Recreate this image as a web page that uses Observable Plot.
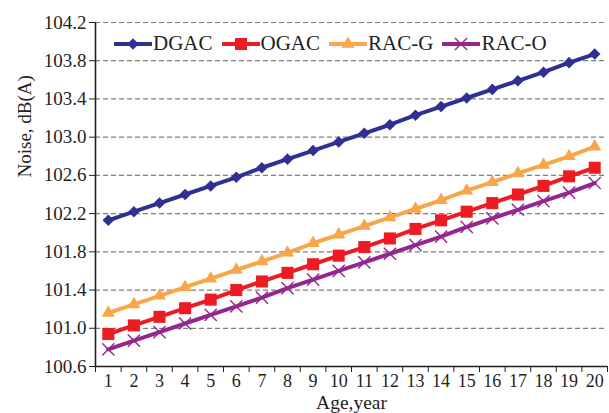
<!DOCTYPE html>
<html>
<head>
<meta charset="utf-8">
<script src="https://cdn.jsdelivr.net/npm/d3@7"></script>
<script src="https://cdn.jsdelivr.net/npm/@observablehq/plot@0.6"></script>
<style>
  html, body { margin: 0; padding: 0; background: #fff; }
  #wrap { position: relative; width: 609px; height: 413px; }
  #legend { position: absolute; left: 114px; top: 31px; display: flex; align-items: center;
            font-family: "Liberation Serif", serif; font-size: 21px; color: #231f20; }
  #legend .item { display: flex; align-items: center; margin-right: 9px; }
  #legend svg { display: block; margin-right: 1px; }
</style>
</head>
<body>
<div id="wrap"><div id="legend"></div></div>
<script>
const ages = [1,2,3,4,5,6,7,8,9,10,11,12,13,14,15,16,17,18,19,20];
const seriesNames = ["DGAC", "OGAC", "RAC-G", "RAC-O"];
const dgac = [102.13,102.22,102.31,102.40,102.49,102.58,102.68,102.77,102.86,102.95,103.04,103.13,103.23,103.32,103.41,103.50,103.59,103.68,103.78,103.87];
const ogac = [100.94,101.03,101.12,101.21,101.30,101.40,101.49,101.58,101.67,101.76,101.85,101.94,102.04,102.13,102.22,102.31,102.40,102.49,102.59,102.68];
const racG = [101.16,101.25,101.34,101.43,101.52,101.61,101.70,101.79,101.89,101.98,102.07,102.16,102.25,102.34,102.44,102.53,102.62,102.71,102.80,102.90];
const racO = [100.78,100.87,100.96,101.05,101.14,101.23,101.32,101.42,101.51,101.60,101.69,101.78,101.87,101.96,102.06,102.15,102.24,102.33,102.42,102.52];
const yTicks = [100.6,101.0,101.4,101.8,102.2,102.6,103.0,103.4,103.8,104.2];
const xLabel = "Age,year";
const yLabel = "Noise, dB(A)";

const colors = ["#2E3192", "#ED1C24", "#F9A64A", "#93278F"];
const symbols = ["diamond2", "square", "triangle2", "times"];
const d3Symbols = [d3.symbolDiamond2, d3.symbolSquare, d3.symbolTriangle2, d3.symbolTimes];
const radii = [5.2, 6.8, 6.3, 5.6];
const values = [dgac, ogac, racG, racO];

const rows = [];
seriesNames.forEach((s, i) => values[i].forEach((v, j) => rows.push({series: s, age: ages[j], value: v})));
const boundaries = ages.slice(0, -1).map(a => a + 0.5).concat([ages[0] - 0.5, ages[ages.length - 1] + 0.5]);

const dotMarks = seriesNames.map((s, i) => {
  const data = rows.filter(r => r.series === s);
  if (symbols[i] === "times") {
    return Plot.dot(data, {x: "age", y: "value", symbol: () => "times", r: radii[i], stroke: colors[i], strokeWidth: 1.4, fill: "none"});
  }
  return Plot.dot(data, {x: "age", y: "value", symbol: () => symbols[i], r: radii[i], fill: colors[i], stroke: "none"});
});

const chart = Plot.plot({
  width: 609,
  height: 413,
  marginLeft: 95,
  marginRight: 2,
  marginTop: 22,
  marginBottom: 47,
  style: {fontFamily: "Liberation Serif, serif", fontSize: "19px", color: "#231f20", background: "white"},
  x: {type: "linear", domain: [ages[0] - 0.5, ages[ages.length - 1] + 0.5]},
  y: {domain: [yTicks[0], yTicks[yTicks.length - 1]]},
  symbol: {domain: symbols, range: symbols},
  marks: [
    Plot.gridY(yTicks.slice(1), {stroke: "#7f7f7f", strokeOpacity: 1, strokeWidth: 1.2, strokeDasharray: "5,3"}),
    Plot.axisY({ticks: yTicks, tickFormat: d => d.toFixed(1), tickSize: 6, tickPadding: 3, label: null}),
    Plot.axisX({ticks: ages, tickSize: 0, tickPadding: 8, fontSize: 18, tickFormat: d => String(d), label: null}),
    Plot.axisX({ticks: boundaries, tickSize: 6, tickFormat: () => "", label: null}),
    Plot.text([xLabel], {frameAnchor: "bottom", lineAnchor: "bottom", dy: 42, fontSize: 19.5, fill: "#231f20"}),
    Plot.ruleX([ages[0] - 0.5], {stroke: "#231f20", strokeWidth: 1.6}),
    Plot.ruleY([yTicks[0]], {stroke: "#231f20", strokeWidth: 1.6}),
    Plot.text([yLabel], {frameAnchor: "left", rotate: -90, dx: -71, dy: -17, fontSize: 19, fill: "#231f20"}),
    Plot.line(rows, {x: "age", y: "value", z: "series", stroke: d => colors[seriesNames.indexOf(d.series)], strokeWidth: 4}),
    ...dotMarks
  ]
});
document.getElementById("wrap").prepend(chart);

const legend = document.getElementById("legend");
seriesNames.forEach((s, i) => {
  const item = document.createElement("div");
  item.className = "item";
  const size = Math.PI * radii[i] * radii[i];
  const path = d3.symbol(d3Symbols[i], size)();
  const isTimes = symbols[i] === "times";
  item.innerHTML = `<svg width="38" height="18" viewBox="0 0 38 18">
    <line x1="1" x2="37" y1="9" y2="9" stroke="${colors[i]}" stroke-width="4" stroke-linecap="round"/>
    <path d="${path}" transform="translate(19,9)" ${isTimes ? `fill="none" stroke="${colors[i]}" stroke-width="1.4"` : `fill="${colors[i]}"`}/>
  </svg><span>${s}</span>`;
  legend.appendChild(item);
});
</script>
</body>
</html>
